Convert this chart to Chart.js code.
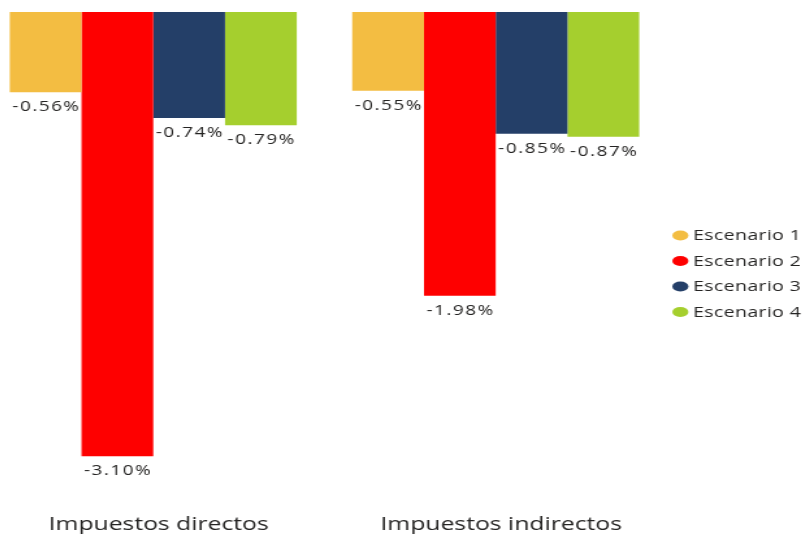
<!DOCTYPE html>
<html>
<head>
<meta charset="utf-8">
<script src="https://cdn.jsdelivr.net/npm/chart.js@4.4.1/dist/chart.umd.min.js"></script>
<style>
  html, body { margin: 0; padding: 0; background: #ffffff; overflow: hidden; }
  /* the chart is laid out narrow and widened horizontally */
  #wrap {
    position: absolute; left: -17.75px; top: 0;
    width: 632px; height: 535px;
    transform: scaleX(1.3); transform-origin: 0 0;
  }
</style>
</head>
<body>
<div id="wrap"><canvas id="chart"></canvas></div>
<script>
// Tax categories on the x axis
const categories = ['Impuestos directos', 'Impuestos indirectos'];

// Change (%) per scenario
const seriesNames = ['Escenario 1', 'Escenario 2', 'Escenario 3', 'Escenario 4'];
const escenario1 = [-0.56, -0.55];
const escenario2 = [-3.10, -1.98];
const escenario3 = [-0.74, -0.85];
const escenario4 = [-0.79, -0.87];

const seriesColors = ['#F3BD42', '#FE0000', '#243F68', '#A5CF2E'];
const seriesValues = [escenario1, escenario2, escenario3, escenario4];

const FONT = "'Open Sans', 'Noto Sans', sans-serif";
const TEXT_COLOR = '#252423';

// Writes each value as a label just under the end of its bar
const valueLabels = {
  id: 'valueLabels',
  afterDatasetsDraw(chart) {
    const ctx = chart.ctx;
    ctx.save();
    ctx.font = '14.5px ' + FONT;
    ctx.fillStyle = TEXT_COLOR;
    ctx.textAlign = 'center';
    ctx.textBaseline = 'middle';
    if ('letterSpacing' in ctx) ctx.letterSpacing = '1.2px';
    chart.data.datasets.forEach((ds, i) => {
      const meta = chart.getDatasetMeta(i);
      meta.data.forEach((bar, j) => {
        const v = ds.data[j];
        ctx.fillText(v.toFixed(2) + '%', bar.x + 0.6, bar.y + 15);
      });
    });
    ctx.restore();
  }
};

// Legend column to the right of the plot: oval marker + series name
const sideLegend = {
  id: 'sideLegend',
  afterDraw(chart) {
    const ctx = chart.ctx;
    const x0 = chart.chartArea.right + 10.3;
    const y0 = 235.5;
    const step = 25.5;
    ctx.save();
    ctx.font = '15px ' + FONT;
    ctx.textAlign = 'left';
    ctx.textBaseline = 'middle';
    if ('letterSpacing' in ctx) ctx.letterSpacing = '0.3px';
    chart.data.datasets.forEach((ds, i) => {
      const y = y0 + i * step;
      ctx.fillStyle = ds.backgroundColor;
      ctx.beginPath();
      ctx.ellipse(x0, y, 6.2, 5, 0, 0, Math.PI * 2);
      ctx.fill();
      ctx.fillStyle = TEXT_COLOR;
      ctx.fillText(ds.label, x0 + 9.7, y + 0.5);
    });
    ctx.restore();
  }
};

new Chart(document.getElementById('chart'), {
  type: 'bar',
  data: {
    labels: categories,
    datasets: seriesNames.map((name, i) => ({
      label: name,
      data: seriesValues[i],
      backgroundColor: seriesColors[i],
      borderWidth: 0,
      categoryPercentage: 0.838,
      barPercentage: 1.0
    }))
  },
  options: {
    responsive: true,
    maintainAspectRatio: false,
    animation: false,
    layout: { padding: { top: 12, right: 105.1, bottom: -17, left: 0 } },
    scales: {
      x: {
        grid: { display: false },
        border: { display: false },
        ticks: {
          color: TEXT_COLOR,
          font: { family: FONT, size: 19 },
          padding: 16,
          labelOffset: 4.2
        }
      },
      y: {
        display: false,
        min: -3.33,
        max: 0
      }
    },
    plugins: {
      legend: { display: false },
      tooltip: { enabled: false }
    }
  },
  plugins: [valueLabels, sideLegend]
});
</script>
</body>
</html>
